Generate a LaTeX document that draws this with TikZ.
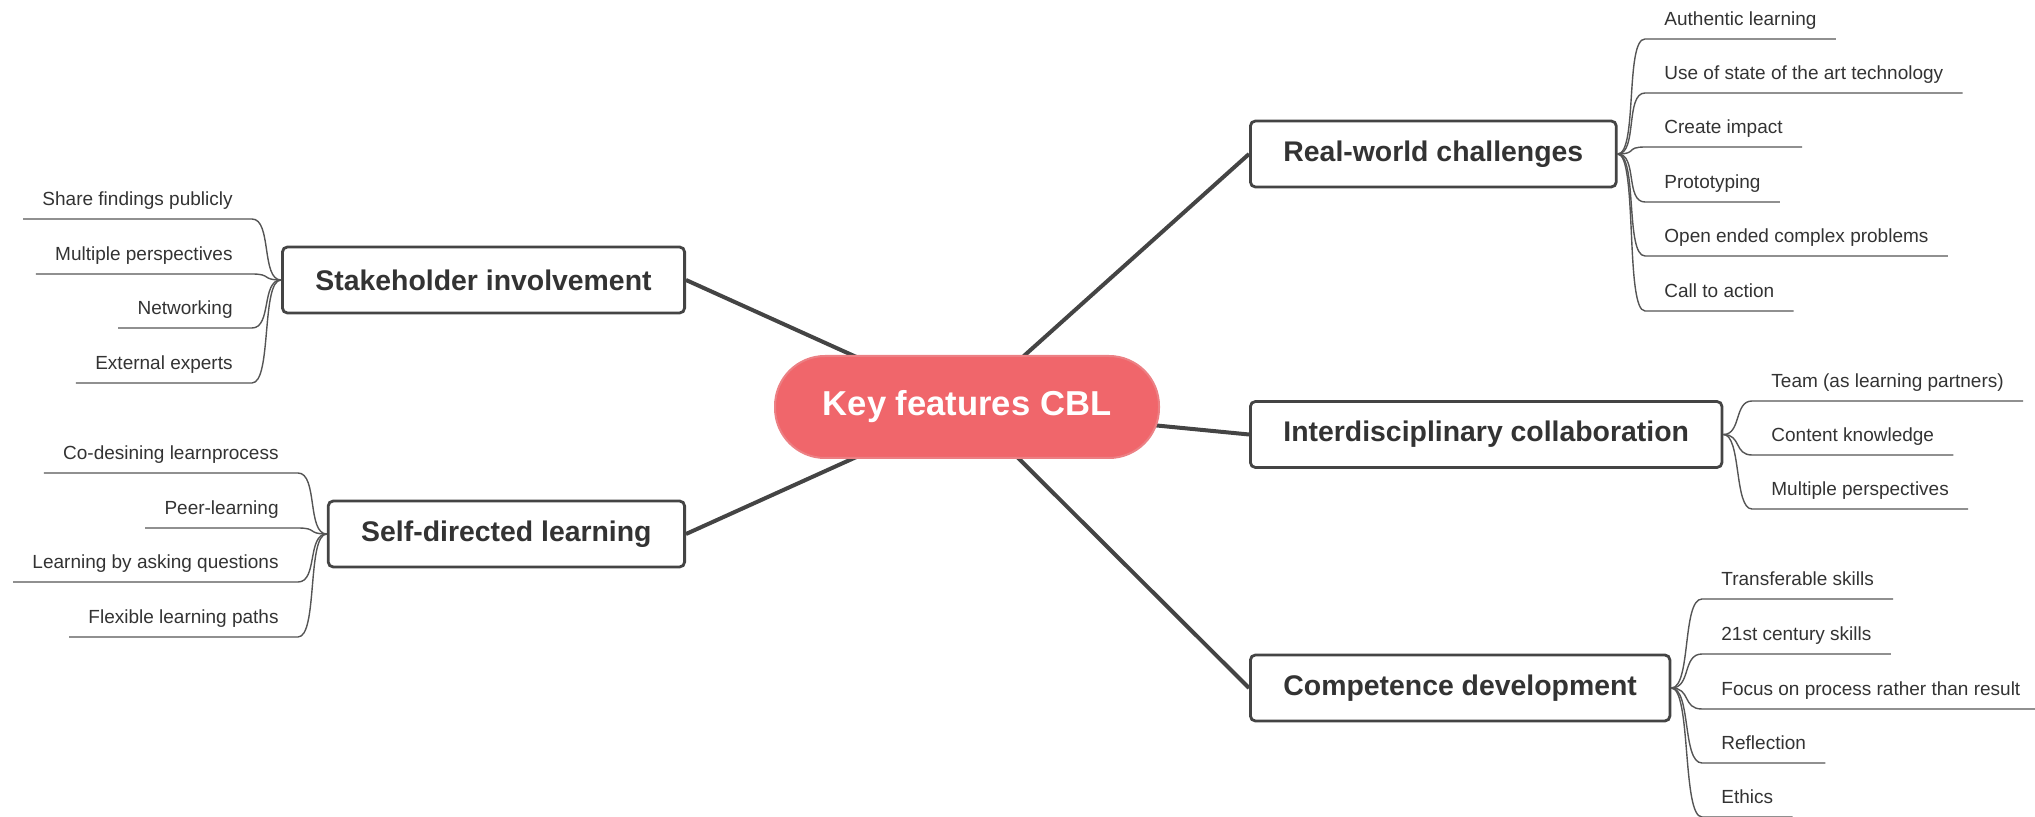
\documentclass[tikz,border=0pt]{standalone}
\usepackage{fontspec}
\setmainfont{Liberation Sans}
\usetikzlibrary{backgrounds}
\definecolor{coral}{HTML}{F0666B}
\definecolor{coraledge}{HTML}{EC8084}
\definecolor{ink}{HTML}{333333}
\definecolor{boxline}{HTML}{444444}
\definecolor{thinline}{HTML}{555555}
\begin{document}
\begin{tikzpicture}[x=0.5pt,y=-0.5pt,
  central/.style={fill=coral, draw=coraledge, line width=1pt, rounded corners=25pt,
    minimum width=192pt, minimum height=51pt, text=white,
    font=\bfseries\fontsize{17.3}{20}\selectfont},
  topic/.style={fill=white, draw=boxline, line width=1.4pt, rounded corners=2.5pt,
    inner xsep=16.5pt, minimum height=33pt, text=ink,
    font=\bfseries\fontsize{14.2}{17}\selectfont},
  leaf/.style={text=ink, font=\fontsize{9.5}{11}\selectfont, inner xsep=9.5pt,
    inner ysep=6.5pt, text depth=0pt},
  mainlink/.style={draw=boxline, line width=2pt},
  sublink/.style={draw=thinline, line width=0.7pt},
]
\useasboundingbox (0,0) rectangle (2035,817);

\node[central] (k) at (967,407) {Key features CBL};

\node[topic, anchor=west] (rw) at (1249,154) {Real-world challenges};
\node[topic, anchor=west] (id) at (1249,434.5) {Interdisciplinary collaboration};
\node[topic, anchor=west] (cd) at (1249,688) {Competence development};
\node[topic, anchor=east] (sh) at (686,280) {Stakeholder involvement};
\node[topic, anchor=east] (sd) at (686,534) {Self-directed learning};

\begin{scope}[on background layer]
  \draw[mainlink] (k.center) -- (rw.west);
  \draw[mainlink] (k.center) -- (id.west);
  \draw[mainlink] (k.center) -- (cd.west);
  \draw[mainlink] (k.center) -- (sh.east);
  \draw[mainlink] (k.center) -- (sd.east);
\end{scope}

% Real-world challenges
\foreach \t/\y [count=\i] in {Authentic learning/39, Use of state of the art technology/93,
  Create impact/147, Prototyping/202, Open ended complex problems/256, Call to action/311} {
  \node[leaf, anchor=south west] (rw\i) at (1645,\y) {\t};
  \draw[sublink] (rw.east) .. controls +(20,0) and +(-20,0) .. (rw\i.south west) -- (rw\i.south east);
}

% Interdisciplinary collaboration
\foreach \t/\y [count=\i] in {Team (as learning partners)/401, Content knowledge/455,
  Multiple perspectives/509} {
  \node[leaf, anchor=south west] (id\i) at (1752,\y) {\t};
  \draw[sublink] (id.east) .. controls +(18,0) and +(-18,0) .. (id\i.south west) -- (id\i.south east);
}

% Competence development
\foreach \t/\y [count=\i] in {Transferable skills/599, 21st century skills/654,
  Focus on process rather than result/709, Reflection/763, Ethics/817} {
  \node[leaf, anchor=south west] (cd\i) at (1702,\y) {\t};
  \draw[sublink] (cd.east) .. controls +(20,0) and +(-20,0) .. (cd\i.south west) -- (cd\i.south east);
}

% Stakeholder involvement
\foreach \t/\y [count=\i] in {Share findings publicly/219, Multiple perspectives/274,
  Networking/328, External experts/383} {
  \node[leaf, anchor=south east] (sh\i) at (252,\y) {\t};
  \draw[sublink] (sh.west) .. controls +(-20,0) and +(20,0) .. (sh\i.south east) -- (sh\i.south west);
}

% Self-directed learning
\foreach \t/\y [count=\i] in {Co-desining learnprocess/473, Peer-learning/528,
  Learning by asking questions/582, Flexible learning paths/637} {
  \node[leaf, anchor=south east] (sd\i) at (298,\y) {\t};
  \draw[sublink] (sd.west) .. controls +(-20,0) and +(20,0) .. (sd\i.south east) -- (sd\i.south west);
}
\end{tikzpicture}
\end{document}
